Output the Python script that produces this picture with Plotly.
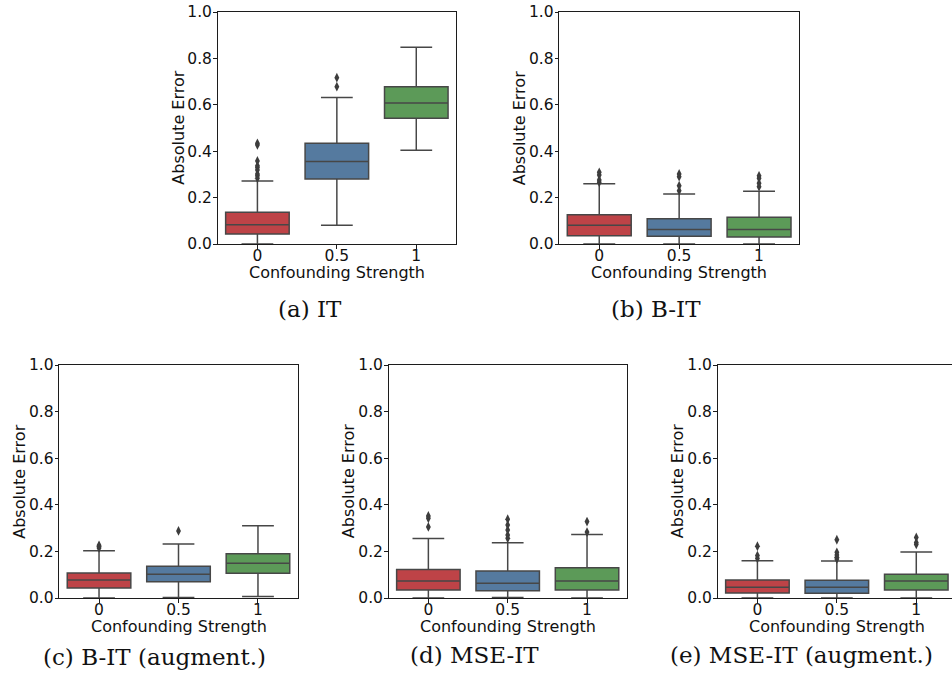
import plotly.graph_objects as go

# ---- data -------------------------------------------------------------
categories = ["0", "0.5", "1"]
captions = ["(a) IT", "(b) B-IT", "(c) B-IT (augment.)", "(d) MSE-IT",
            "(e) MSE-IT (augment.)"]

# (a) IT
it_low = [0.0, 0.081, 0.404]
it_q1 = [0.043, 0.280, 0.542]
it_med = [0.083, 0.356, 0.608]
it_q3 = [0.137, 0.434, 0.678]
it_high = [0.272, 0.631, 0.848]
it_out = [[0.283, 0.294, 0.302, 0.319, 0.330, 0.337, 0.358, 0.427, 0.434],
          [0.678, 0.717], []]

# (b) B-IT
bit_low = [0.0, 0.0, 0.0]
bit_q1 = [0.036, 0.033, 0.030]
bit_med = [0.081, 0.062, 0.063]
bit_q3 = [0.126, 0.109, 0.115]
bit_high = [0.260, 0.216, 0.227]
bit_out = [[0.266, 0.276, 0.297, 0.309], [0.230, 0.251, 0.290, 0.302],
           [0.247, 0.262, 0.283, 0.294]]

# (c) B-IT (augment.)
bita_low = [0.0, 0.002, 0.006]
bita_q1 = [0.043, 0.070, 0.106]
bita_med = [0.077, 0.102, 0.149]
bita_q3 = [0.107, 0.136, 0.190]
bita_high = [0.203, 0.232, 0.310]
bita_out = [[0.215, 0.221, 0.226], [0.288], []]

# (d) MSE-IT
mse_low = [0.0, 0.002, 0.0]
mse_q1 = [0.034, 0.031, 0.034]
mse_med = [0.073, 0.063, 0.073]
mse_q3 = [0.122, 0.116, 0.130]
mse_high = [0.255, 0.237, 0.273]
mse_out = [[0.305, 0.342, 0.352], [0.256, 0.270, 0.292, 0.313, 0.338],
           [0.283, 0.328]]

# (e) MSE-IT (augment.)
msea_low = [0.0, 0.0, 0.0]
msea_q1 = [0.021, 0.020, 0.034]
msea_med = [0.046, 0.046, 0.073]
msea_q3 = [0.077, 0.076, 0.102]
msea_high = [0.160, 0.159, 0.197]
msea_out = [[0.170, 0.182, 0.222], [0.167, 0.175, 0.185, 0.196, 0.250],
            [0.230, 0.238, 0.260]]

y_ticks = [0.0, 0.2, 0.4, 0.6, 0.8, 1.0]

# ---- styling ------------------------------------------------------------
W, H = 952, 681
box_colors = ["#be4347", "#557a9f", "#5c9a58"]
line_col = "#474747"
frame_col = "#1c1c1c"
sans = "DejaVu Sans"
serif = "DejaVu Serif"

# plot-area rectangles in pixels: left, right, top, bottom
rects = [
    (217.7, 456.0, 12.0, 244.0),
    (559.3, 799.0, 12.0, 244.0),
    (59.3, 297.7, 365.0, 598.0),
    (388.7, 626.7, 365.0, 598.0),
    (717.7, 956.0, 365.0, 598.0),
]
caption_pos = [(310, 309), (656, 309), (154, 657), (474, 655), (801, 655)]

panels = [
    (it_low, it_q1, it_med, it_q3, it_high, it_out),
    (bit_low, bit_q1, bit_med, bit_q3, bit_high, bit_out),
    (bita_low, bita_q1, bita_med, bita_q3, bita_high, bita_out),
    (mse_low, mse_q1, mse_med, mse_q3, mse_high, mse_out),
    (msea_low, msea_q1, msea_med, msea_q3, msea_high, msea_out),
]


def px_x(v):
    return v / W


def px_y(v):
    return 1 - v / H


fig = go.Figure()
annotations = []
layout_axes = {}

for k, (low, q1, med, q3, high, outs) in enumerate(panels):
    n = "" if k == 0 else str(k + 1)
    xa, ya = "x" + n, "y" + n
    left, right, top, bottom = rects[k]

    for i in range(len(categories)):
        fig.add_trace(go.Box(
            x=[i], q1=[q1[i]], median=[med[i]], q3=[q3[i]],
            lowerfence=[low[i]], upperfence=[high[i]],
            width=0.8, whiskerwidth=0.5, boxpoints=False,
            fillcolor=box_colors[i],
            line=dict(color=line_col, width=1.5),
            xaxis=xa, yaxis=ya, showlegend=False, hoverinfo="skip",
        ))
        if outs[i]:
            fig.add_trace(go.Scatter(
                x=[i] * len(outs[i]), y=outs[i], mode="markers",
                marker=dict(symbol="diamond-tall", size=7, color="#3d3d3d",
                            line=dict(width=0)),
                xaxis=xa, yaxis=ya, showlegend=False, hoverinfo="skip",
            ))

    # the last panel runs past the right edge of the page
    full_w = right - left
    vis_right = min(right, W)
    x_hi = -0.5 + 3.0 * (vis_right - left) / full_w
    clipped = right > W

    layout_axes["xaxis" + n] = dict(
        domain=[px_x(left), px_x(vis_right)], anchor=ya, automargin=False,
        range=[-0.5, x_hi], tickmode="array", tickvals=[0, 1, 2],
        ticktext=categories, showgrid=False, zeroline=False,
        showline=True, mirror=True, linecolor=frame_col, linewidth=1.3,
        ticks="outside", ticklen=3.5, tickwidth=1, tickcolor=frame_col,
        ticklabelstandoff=-6,
        tickfont=dict(family=sans, size=15.5, color="#111111"),
    )
    layout_axes["yaxis" + n] = dict(
        domain=[px_y(bottom), px_y(top)], anchor=xa, automargin=False,
        range=[0, 1.0], tickmode="array", tickvals=y_ticks,
        tickformat=".1f", showgrid=False, zeroline=False,
        showline=True, mirror=not clipped, linecolor=frame_col, linewidth=1.3,
        ticks="outside", ticklen=3.5, tickwidth=1, tickcolor=frame_col,
        ticklabelstandoff=-2,
        tickfont=dict(family=sans, size=15.5, color="#111111"),
    )

    cx = (left + right) / 2
    annotations.append(dict(
        text="Confounding Strength", x=px_x(cx), y=px_y(bottom + 28.5),
        xref="paper", yref="paper", xanchor="center", yanchor="middle",
        showarrow=False, font=dict(family=sans, size=16, color="#111111"),
    ))
    annotations.append(dict(
        text="Absolute Error", x=px_x(left - 40), y=px_y((top + bottom) / 2),
        xref="paper", yref="paper", xanchor="center", yanchor="middle",
        textangle=-90, showarrow=False,
        font=dict(family=sans, size=16, color="#111111"),
    ))
    capx, capy = caption_pos[k]
    annotations.append(dict(
        text=captions[k], x=px_x(capx), y=px_y(capy),
        xref="paper", yref="paper", xanchor="center", yanchor="middle",
        showarrow=False, font=dict(family=serif, size=23, color="#111111"),
    ))

fig.update_layout(
    template="none",
    width=W, height=H, margin=dict(l=0, r=0, t=0, b=0, autoexpand=False),
    paper_bgcolor="white", plot_bgcolor="white",
    boxmode="overlay", annotations=annotations, **layout_axes,
)

fig.write_html("out.html")
